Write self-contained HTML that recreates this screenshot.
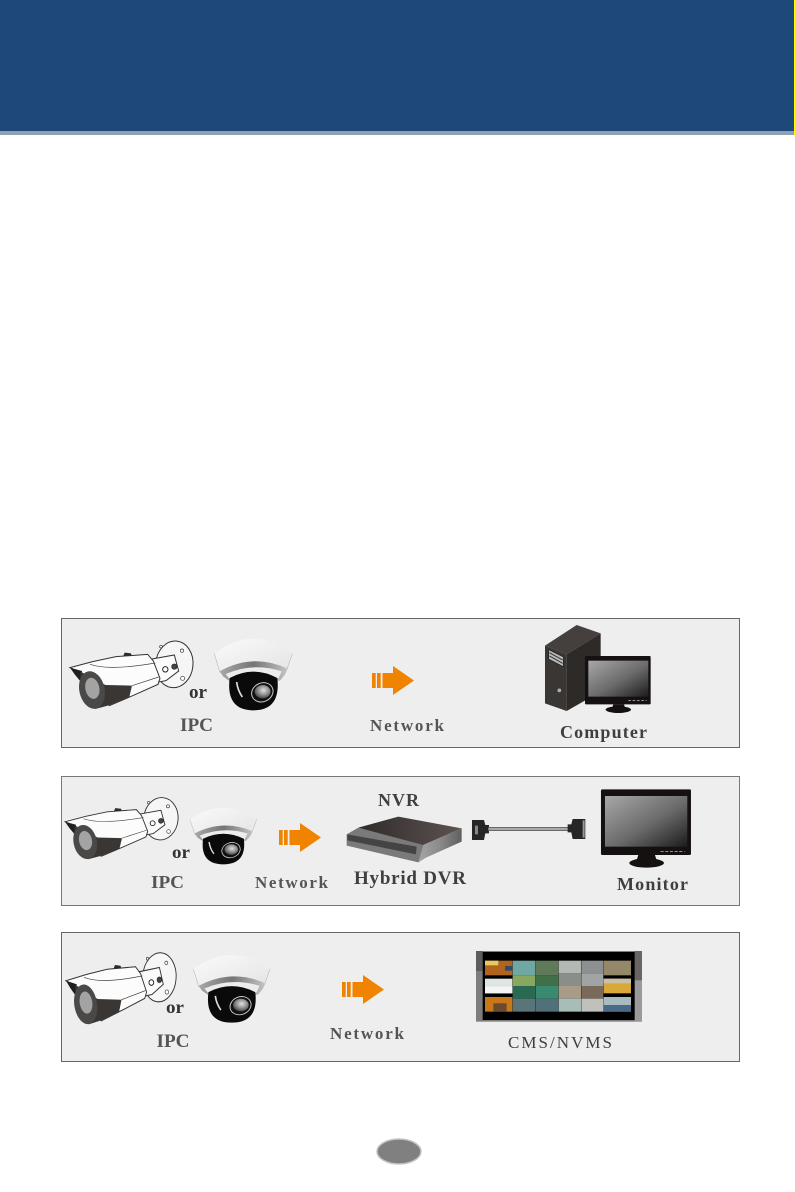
<!DOCTYPE html>
<html><head><meta charset="utf-8"><style>
html,body{margin:0;padding:0;background:#fff}
svg{display:block}
text{font-family:"Liberation Serif",serif;fill:#3f3f3f;filter:blur(.3px)}
.b{font-weight:bold}
</style></head><body>
<svg width="795" height="1192" viewBox="0 0 795 1192" xmlns="http://www.w3.org/2000/svg">
<defs>
<linearGradient id="scr" x1="0" y1="0" x2="1" y2="1"><stop offset="0" stop-color="#a8a8a8"/><stop offset=".55" stop-color="#6a6a6a"/><stop offset="1" stop-color="#1c1c1c"/></linearGradient>
<linearGradient id="top" x1="0" y1="0" x2="1" y2="1"><stop offset="0" stop-color="#fafafa"/><stop offset="1" stop-color="#e4e4e4"/></linearGradient>
<linearGradient id="ring" x1="0" y1="0" x2="1" y2="0"><stop offset="0" stop-color="#a8a8a8"/><stop offset=".5" stop-color="#757575"/><stop offset="1" stop-color="#c4c4c4"/></linearGradient>
<linearGradient id="side" x1="0" y1="0" x2="1" y2="0"><stop offset="0" stop-color="#a5a5a5"/><stop offset=".5" stop-color="#8a8a8a"/><stop offset="1" stop-color="#5f5f5f"/></linearGradient>
<linearGradient id="dvrtop" x1="0" y1="0" x2="1" y2="0"><stop offset="0" stop-color="#2f2b2a"/><stop offset="1" stop-color="#5d5351"/></linearGradient>
<radialGradient id="lens" cx=".55" cy=".4" r=".65"><stop offset="0" stop-color="#e2e2e2"/><stop offset=".55" stop-color="#8c8c8c"/><stop offset="1" stop-color="#3a3a3a"/></radialGradient>

<g id="bullet">
<ellipse cx="325" cy="88" rx="56" ry="70" fill="#f6f6f6" stroke="#333" stroke-width="3" transform="rotate(6 325 88)"/>
<path d="M258 72 L325 60 L338 108 L300 137 L272 142 Z" fill="#fbfbfb" stroke="#333" stroke-width="3"/>
<circle cx="298" cy="103" r="8" fill="#fff" stroke="#222" stroke-width="3"/>
<circle cx="325" cy="95" r="8" fill="#444" stroke="#222" stroke-width="2"/>
<circle cx="348" cy="47" r="5" fill="#fff" stroke="#333" stroke-width="2"/>
<circle cx="350" cy="130" r="6" fill="#fff" stroke="#333" stroke-width="2"/>
<circle cx="285" cy="35" r="4" fill="#fff" stroke="#333" stroke-width="2"/>
<path d="M170 68 L176 53 L195 55 L198 66 Z" fill="#2a2a2a"/>
<path d="M12 98 L80 80 L150 65 L245 58 L262 78 L282 130 L276 148 L200 182 L130 212 L45 112 Z" fill="#fcfcfc" stroke="#333" stroke-width="3"/>
<path d="M12 98 L48 108 L44 140 L26 118 Z" fill="#1f1f1f"/>
<path d="M44 110 L118 150 L198 152 L190 186 L132 210 L88 222 L55 190 L42 140 Z" fill="#3a3634"/>
<ellipse cx="78" cy="165" rx="38" ry="57" fill="#4b4948" transform="rotate(-12 78 165)"/>
<ellipse cx="79" cy="160" rx="21" ry="32" fill="#a3a3a3" transform="rotate(-12 79 160)"/>
<path d="M72 88 Q130 108 268 84 M198 152 L278 126" stroke="#444" stroke-width="2" fill="none"/>
</g>

<g id="dome">
<path d="M28 65 Q145 -25 262 65 L246 112 L45 122 Z" fill="url(#top)"/>
<path d="M28 65 L45 122 M262 65 L246 112" stroke="#aaa" stroke-width="1.5" fill="none"/>
<path d="M44 118 Q145 62 248 110 L240 128 L225 146 L72 146 L55 134 Z" fill="url(#ring)"/>
<path d="M62 126 Q145 90 230 118 L220 140 L72 140 Z" fill="#ececec"/>
<path d="M74 138 Q145 100 217 138 Q228 235 145 235 Q62 235 74 138 Z" fill="#0a0a0a"/>
<path d="M95 150 Q98 175 112 195" stroke="#ddd" stroke-width="5" fill="none"/>
<ellipse cx="172" cy="181" rx="33" ry="28" fill="#111" stroke="#c8c8c8" stroke-width="3" transform="rotate(-25 172 181)"/>
<ellipse cx="173" cy="179" rx="24" ry="20" fill="url(#lens)"/>
</g>

<path id="arrow" d="M0 7H3.700V22H0ZM5 7H8.700V22H5ZM10.500 7H21V0L42 14.500L21 29V22H10.500Z" fill="#f08300"/>

<g id="monitor">
<rect x="783" y="43" width="270" height="197" rx="4" fill="#141110"/>
<rect x="795" y="63" width="247" height="152" fill="url(#scr)"/>
<path d="M962 229h72" stroke="#ddd" stroke-width="2" stroke-dasharray="9 5"/>
<path d="M895 240H945L950 256H890Z" fill="#141110"/>
<ellipse cx="920" cy="264" rx="52" ry="14" fill="#141110"/>
</g>
</defs>

<!-- header -->
<rect x="0" y="0" width="795" height="131" fill="#1e4878"/>
<rect x="0" y="131" width="795" height="4" fill="#8e9fb6"/>
<rect x="794" y="0" width="1" height="135" fill="#ffff00"/>

<!-- panels -->
<rect x="61.5" y="618.5" width="678" height="129" fill="#eeeeee" stroke="#666" stroke-width="1"/>
<rect x="61.5" y="776.5" width="678" height="129" fill="#eeeeee" stroke="#777" stroke-width="1"/>
<rect x="61.5" y="932.5" width="678" height="129" fill="#eeeeee" stroke="#666" stroke-width="1"/>

<!-- panel 1 -->
<use href="#bullet" transform="translate(66 635) scale(.3333)"/>
<use href="#dome" transform="translate(205 632) scale(.3333)"/>
<text x="189" y="698" class="b" font-size="19" textLength="18" lengthAdjust="spacingAndGlyphs" style="fill:#333">or</text>
<text x="180" y="731" font-size="19" textLength="33" lengthAdjust="spacingAndGlyphs" class="b" style="fill:#555">IPC</text>
<use href="#arrow" x="372" y="666"/>
<text x="370" y="731" font-size="17" textLength="74" lengthAdjust="spacing" class="b" style="fill:#555">Network</text>
<!-- computer -->
<g transform="translate(430 615) scale(.3333)">
<path d="M345 92 L440 30 L512 55 L410 118 Z" fill="#45403e"/>
<path d="M345 92 L410 118 L410 288 L345 265 Z" fill="#3a3634"/>
<path d="M410 118 L512 55 L512 230 L410 288 Z" fill="#2e2a28"/>
<path d="M356 104 L400 126 L400 155 L356 132 Z" fill="#bbb" stroke="#222" stroke-width="2"/>
<path d="M358 113 L398 135 M358 123 L398 145" stroke="#333" stroke-width="3"/>
<circle cx="388" cy="226" r="7" fill="#aaa" stroke="#222" stroke-width="2"/>
<rect x="465" y="123" width="197" height="145" rx="3" fill="#141110"/>
<rect x="475" y="137" width="180" height="108" fill="url(#scr)"/>
<path d="M595 257h55" stroke="#ddd" stroke-width="2" stroke-dasharray="8 5"/>
<path d="M550 268H582L586 280H546Z" fill="#141110"/>
<ellipse cx="565" cy="284" rx="38" ry="10" fill="#141110"/>
</g>
<text x="560" y="738" font-size="18" textLength="87" lengthAdjust="spacing" class="b">Computer</text>

<!-- panel 2 -->
<use href="#bullet" transform="translate(61.3 792.1) scale(.3065 .3027)"/>
<use href="#dome" transform="translate(182 802.4) scale(.285 .2636)"/>
<text x="172" y="858" class="b" font-size="18" textLength="18" lengthAdjust="spacingAndGlyphs" style="fill:#333">or</text>
<text x="151" y="888" font-size="18" textLength="33" lengthAdjust="spacingAndGlyphs" class="b" style="fill:#555">IPC</text>
<use href="#arrow" x="279" y="823"/>
<text x="255" y="888" font-size="17" textLength="73" lengthAdjust="spacing" class="b" style="fill:#555">Network</text>
<!-- DVR -->
<g transform="translate(340 785) scale(.3333)">
<path d="M20 148 L55 128 L250 172 L258 216 L235 232 L20 182 Z" fill="#7a7a7a"/>
<path d="M22 148 L230 185 L228 208 L22 166 Z" fill="#444"/>
<path d="M55 128 L175 95 L365 130 L250 180 Z" fill="url(#dvrtop)"/>
<path d="M250 180 L365 130 L365 170 L258 218 L235 232 Z" fill="url(#side)"/>
</g>
<g transform="translate(340 775) scale(.3333)">
<path d="M396 135 H432 L436 150 H447 V175 H436 L432 195 H396 Z" fill="#262626"/>
<rect x="405" y="152" width="9" height="26" fill="#888"/>
<rect x="445" y="157" width="240" height="10" fill="#a8a8a8"/>
<path d="M445 157h240M445 167h240" stroke="#444" stroke-width="2"/>
<path d="M736 132 H698 L694 148 H683 V172 H694 L698 192 H736 Z" fill="#262626"/>
<rect x="728" y="136" width="6" height="52" fill="#999"/>
</g>
<text x="378" y="806" font-size="18" textLength="41" lengthAdjust="spacing" class="b">NVR</text>
<text x="354" y="884" font-size="19" textLength="112" lengthAdjust="spacing" class="b">Hybrid DVR</text>
<use href="#monitor" transform="translate(340 775) scale(.3333)"/>
<text x="617" y="890" font-size="18" textLength="71" lengthAdjust="spacing" class="b">Monitor</text>

<!-- panel 3 -->
<use href="#bullet" transform="translate(62.4 946.4) scale(.2985 .351)"/>
<use href="#dome" transform="translate(184.2 948.7) scale(.3276 .3147)"/>
<text x="166" y="1013" class="b" font-size="18" textLength="18" lengthAdjust="spacingAndGlyphs" style="fill:#333">or</text>
<text x="156.500" y="1047" font-size="19" textLength="33" lengthAdjust="spacingAndGlyphs" class="b" style="fill:#555">IPC</text>
<use href="#arrow" x="342" y="975"/>
<text x="330" y="1039" font-size="17" textLength="74" lengthAdjust="spacing" class="b" style="fill:#555">Network</text>
<!-- CMS -->
<g transform="translate(470 940) scale(.3333)">
<rect x="18" y="33" width="498" height="212" fill="#7d7d7d"/>
<rect x="18" y="33" width="20" height="60" fill="#5d5d5d"/>
<rect x="494" y="33" width="22" height="88" fill="#6a6563"/>
<rect x="494" y="121" width="22" height="124" fill="#9a9a9a"/>
<rect x="38" y="36" width="456" height="204" fill="#000"/>
<rect x="45" y="62" width="82" height="44" fill="#b0641e"/>
<rect x="45" y="62" width="40" height="14" fill="#e8c860"/>
<rect x="105" y="78" width="22" height="14" fill="#304a70"/>
<rect x="45" y="116" width="82" height="44" fill="#dfe4e4"/>
<rect x="45" y="140" width="82" height="20" fill="#f4f4f4"/>
<rect x="45" y="171" width="82" height="44" fill="#c87818"/>
<rect x="70" y="190" width="40" height="25" fill="#6a4a30"/>
<rect x="128" y="62" width="68" height="44" fill="#6fa8a0"/>
<rect x="128" y="106" width="68" height="32" fill="#88a860"/>
<rect x="128" y="138" width="68" height="38" fill="#2a6a50"/>
<rect x="128" y="176" width="68" height="39" fill="#5a7478"/>
<rect x="197" y="62" width="68" height="44" fill="#5f7a58"/>
<rect x="197" y="106" width="68" height="32" fill="#3f7048"/>
<rect x="197" y="138" width="68" height="38" fill="#3a8a70"/>
<rect x="197" y="176" width="68" height="39" fill="#50707a"/>
<rect x="266" y="62" width="67" height="38" fill="#b4b8b4"/>
<rect x="266" y="100" width="67" height="38" fill="#8a8e88"/>
<rect x="266" y="138" width="67" height="38" fill="#a89c88"/>
<rect x="266" y="176" width="67" height="39" fill="#a8bcb8"/>
<rect x="334" y="62" width="66" height="38" fill="#8c9090"/>
<rect x="334" y="100" width="66" height="38" fill="#a0a4a4"/>
<rect x="334" y="138" width="66" height="38" fill="#7a6a5a"/>
<rect x="334" y="176" width="66" height="39" fill="#c0c0bc"/>
<rect x="401" y="62" width="82" height="44" fill="#94876a"/>
<rect x="401" y="116" width="82" height="44" fill="#d8a838"/>
<rect x="401" y="116" width="82" height="14" fill="#c8c0a8"/>
<rect x="401" y="171" width="82" height="44" fill="#a8bcc0"/>
<rect x="401" y="195" width="82" height="20" fill="#4a6a8a"/>
</g>
<text x="508" y="1048" font-size="17" textLength="104" lengthAdjust="spacing">CMS/NVMS</text>

<!-- page number oval -->
<ellipse cx="399" cy="1151.5" rx="22" ry="12.5" fill="#808080" stroke="#c4c4c4" stroke-width="1.5"/>
</svg>
</body></html>
